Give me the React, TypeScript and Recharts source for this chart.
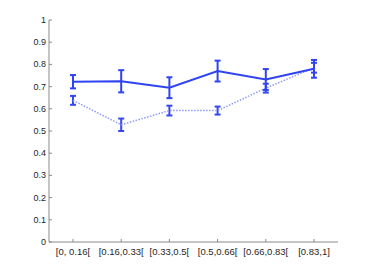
import React from 'react'
import { LineChart, Line, XAxis, YAxis, ErrorBar } from 'recharts'

const bins = ['[0, 0.16[', '[0.16,0.33[', '[0.33,0.5[', '[0.5,0.66[', '[0.66,0.83[', '[0.83,1]']
const solidMean = [0.722, 0.724, 0.695, 0.77, 0.732, 0.78]
const solidErr = [0.03, 0.05, 0.047, 0.047, 0.047, 0.04]
const dottedMean = [0.638, 0.528, 0.592, 0.592, 0.693, 0.785]
const dottedErr = [0.02, 0.028, 0.022, 0.018, 0.02, 0.022]
const yTicks = [0, 0.1, 0.2, 0.3, 0.4, 0.5, 0.6, 0.7, 0.8, 0.9, 1]

const data = bins.map((name, i) => ({
    name,
    solid: solidMean[i],
    solidErr: solidErr[i],
    dotted: dottedMean[i],
    dottedErr: dottedErr[i],
}))

const axisColor = '#8a8a8a'
const textColor = '#262626'
const font = '"Liberation Sans", Arial, sans-serif'

// matlab style: ticks point inward
function YTick(props: any) {
    const { x, y, payload } = props
    return (
        <g>
            <line x1={x} y1={y} x2={x + 3} y2={y} stroke={axisColor} strokeWidth={1} />
            <text x={x - 3} y={y} dy={3} textAnchor="end" fontSize={9} fill={textColor} fontFamily={font}>
                {String(payload.value)}
            </text>
        </g>
    )
}

function XTick(props: any) {
    const { x, y, payload } = props
    return (
        <g>
            <line x1={x} y1={y} x2={x} y2={y - 3} stroke={axisColor} strokeWidth={1} />
            <text x={x} y={y + 13} textAnchor="middle" fontSize={9.5} fill={textColor} fontFamily={font}>
                {payload.value}
            </text>
        </g>
    )
}

export default function App() {
    return (
        <div style={{ position: 'absolute', left: 0, top: 0, width: 374, height: 274, background: '#fff' }}>
            <LineChart width={374} height={274} data={data} margin={{ top: 20, right: 36, left: 0, bottom: 0 }}>
                <XAxis
                    dataKey="name"
                    padding={{ left: 24, right: 24 }}
                    stroke={axisColor}
                    tickLine={false}
                    tickSize={0}
                    tickMargin={0}
                    tick={<XTick />}
                    height={32}
                    interval={0}
                />
                <YAxis
                    domain={[0, 1]}
                    ticks={yTicks}
                    stroke={axisColor}
                    tickLine={false}
                    tickSize={0}
                    tickMargin={0}
                    tick={<YTick />}
                    width={49}
                    interval={0}
                />
                <Line
                    dataKey="dotted"
                    stroke="#8e9af6"
                    strokeWidth={1.5}
                    strokeDasharray="1.5 1.5"
                    dot={false}
                    isAnimationActive={false}
                >
                    <ErrorBar dataKey="dottedErr" stroke="#3347f4" strokeWidth={2} width={3} />
                </Line>
                <Line
                    dataKey="solid"
                    stroke="#2f43f3"
                    strokeWidth={2}
                    dot={false}
                    isAnimationActive={false}
                >
                    <ErrorBar dataKey="solidErr" stroke="#2f43f3" strokeWidth={2} width={3} />
                </Line>
            </LineChart>
        </div>
    )
}
